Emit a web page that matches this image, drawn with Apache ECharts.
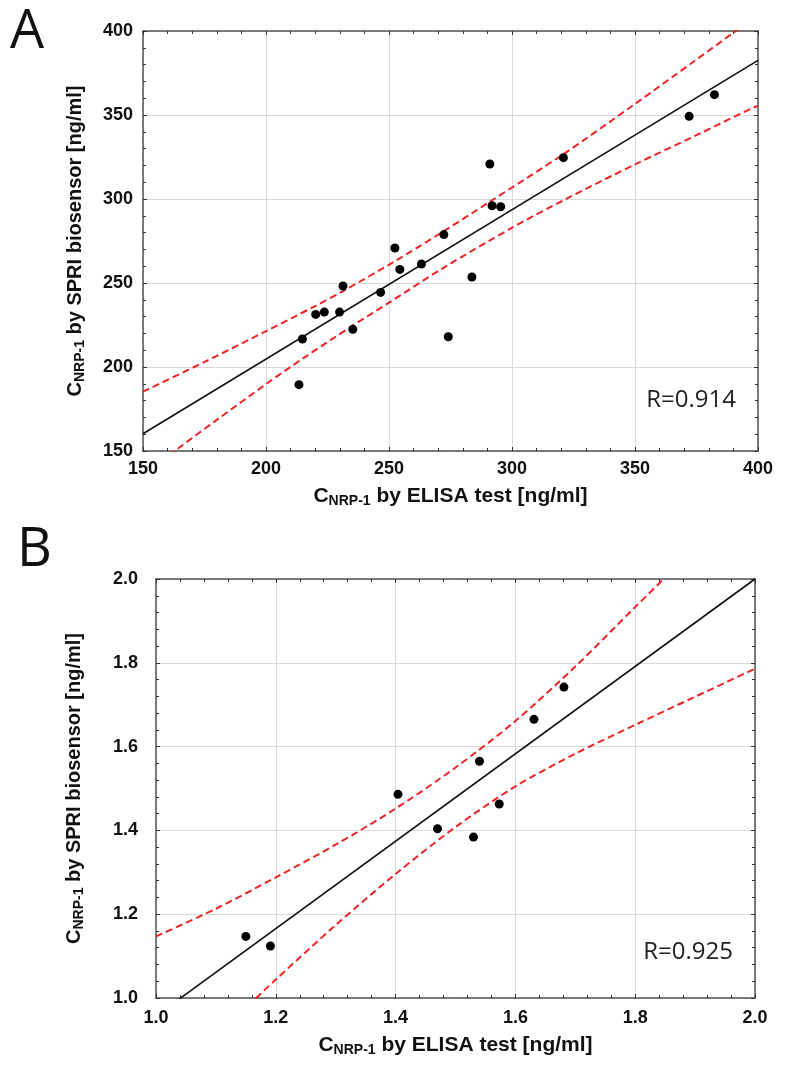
<!DOCTYPE html>
<html>
<head>
<meta charset="utf-8">
<script src="https://cdn.jsdelivr.net/npm/echarts@6/dist/echarts.min.js"></script>
<style>
html,body{margin:0;padding:0;background:#fff;}
#c{width:788px;height:1070px;}
</style>
</head>
<body>
<div id="c"></div>
<script>
// ---------- Panel A data (ng/ml) ----------
const aElisa = [382.3, 372.0, 320.9, 291.0, 291.9, 295.4, 272.3, 252.4, 254.4, 263.2, 283.7, 231.3, 246.6, 220.2, 223.7, 229.9, 235.3, 274.1, 214.8, 213.4];
const aSpri  = [362.1, 349.2, 324.6, 320.8, 296.0, 295.4, 278.8, 270.8, 258.1, 261.3, 253.6, 248.2, 244.4, 231.3, 232.7, 232.7, 222.4, 218.0, 216.7, 189.5];
const aFitX = [150, 400];
const aFitY = [160.3, 382.5];
const aUpX = [150, 175, 200, 220, 231, 252, 272, 291, 321, 350, 375, 390, 400];
const aUpY = [185.3, 203, 221.3, 236.3, 244.9, 262.6, 280.6, 298.4, 326.8, 356.6, 383, 399, 409.5];
const aLoX = [150, 163.8, 180, 200, 215, 235, 250, 272, 300, 321, 350, 375, 397.5, 400];
const aLoY = [135.3, 151, 168.5, 189.8, 205.1, 224.4, 238.3, 258.9, 282.9, 299.3, 320.6, 338, 354, 355.5];
const aTicks = [150, 200, 250, 300, 350, 400];
const aR = 'R=0.914';

// ---------- Panel B data (ng/ml) ----------
const bElisa = [1.150, 1.191, 1.404, 1.470, 1.530, 1.540, 1.573, 1.631, 1.681];
const bSpri  = [1.147, 1.124, 1.486, 1.404, 1.384, 1.565, 1.463, 1.665, 1.742];
const bFitX = [1.0, 2.0];
const bFitY = [0.957, 2.0];
const bUpX = [1.0, 1.1, 1.2, 1.3, 1.4, 1.5, 1.6, 1.7, 1.8, 1.9];
const bUpY = [1.147, 1.213, 1.288, 1.366, 1.452, 1.550, 1.661, 1.791, 1.933, 2.074];
const bLoX = [1.1, 1.2, 1.3, 1.4, 1.5, 1.6, 1.7, 1.8, 1.9, 2.0];
const bLoY = [0.909, 1.044, 1.174, 1.296, 1.408, 1.505, 1.583, 1.652, 1.719, 1.786];
const bTicks = [1.0, 1.2, 1.4, 1.6, 1.8, 2.0];
const bR = 'R=0.925';

const xName = '{c|C}{s|NRP-1}{c| by ELISA test [ng/ml]}';
const yName = '{c|C}{s|NRP-1}{c| by SPRI biosensor [ng/ml]}';

const zip = (xs, ys) => xs.map((x, i) => [x, ys[i]]);

const RED = '#ee2424';
const AXC = '#555555';
const LABEL_FONT = 'Liberation Sans, Arial, sans-serif';

function richName(size, subSize, pad) {
  return {
    c: {fontSize: size, fontWeight: 'bold', fontFamily: LABEL_FONT, color: '#111'},
    s: {fontSize: subSize, fontWeight: 'bold', fontFamily: LABEL_FONT, color: '#111', padding: [pad, 0, 0, 0]}
  };
}

function mainAxisCommon(min, max, interval, decimals) {
  return {
    type: 'value', min: min, max: max, interval: interval,
    axisLine: {show: true, onZero: false, lineStyle: {color: AXC, width: 1.5}},
    axisTick: {show: true, inside: true, length: 4, lineStyle: {color: '#333'}},
    minorTick: {show: true, splitNumber: 5, length: 3, lineStyle: {color: '#333'}},
    splitLine: {show: true, lineStyle: {color: '#dadada', width: 1}},
    axisLabel: {
      fontSize: 18, fontWeight: 'bold', fontFamily: LABEL_FONT, color: '#111',
      formatter: v => v.toFixed(decimals)
    }
  };
}
function sideAxis(min, max, interval, pos, gridIndex) {
  return {
    type: 'value', min: min, max: max, interval: interval, position: pos, gridIndex: gridIndex,
    axisLine: {show: true, onZero: false, lineStyle: {color: AXC, width: 1.5}},
    axisTick: {show: true, inside: true, length: 4, lineStyle: {color: '#333'}},
    minorTick: {show: true, splitNumber: 5, length: 3, lineStyle: {color: '#333'}},
    splitLine: {show: false},
    axisLabel: {show: false}
  };
}

const chart = echarts.init(document.getElementById('c'), null, {renderer: 'canvas'});

const xA = Object.assign(mainAxisCommon(aTicks[0], aTicks[aTicks.length-1], aTicks[1]-aTicks[0], 0), {
  gridIndex: 0, position: 'bottom', name: xName, nameLocation: 'middle', nameGap: 34,
  nameTextStyle: {rich: richName(21, 14, 9)}
});
xA.axisLabel.margin = 9;
const yA = Object.assign(mainAxisCommon(aTicks[0], aTicks[aTicks.length-1], aTicks[1]-aTicks[0], 0), {
  gridIndex: 0, position: 'left', name: yName, nameLocation: 'middle', nameGap: 56, nameRotate: 90,
  nameTextStyle: {rich: richName(20, 14, 9)}
});
yA.axisLabel.margin = 10;

const xB = Object.assign(mainAxisCommon(bTicks[0], bTicks[bTicks.length-1], 0.2, 1), {
  gridIndex: 1, position: 'bottom', name: xName, nameLocation: 'middle', nameGap: 36,
  nameTextStyle: {rich: richName(21, 14, 9)}
});
xB.axisLabel.margin = 11;
const yB = Object.assign(mainAxisCommon(bTicks[0], bTicks[bTicks.length-1], 0.2, 1), {
  gridIndex: 1, position: 'left', name: yName, nameLocation: 'middle', nameGap: 70, nameRotate: 90,
  nameTextStyle: {rich: richName(20, 14, 9)}
});
yB.axisLabel.margin = 18;

const lineBase = {type: 'line', showSymbol: false, symbol: 'none', clip: true, z: 2, silent: true};

const option = {
  animation: false,
  backgroundColor: '#ffffff',
  grid: [
    {left: 143, top: 31, width: 615, height: 420, containLabel: false},
    {left: 156, top: 579, width: 599, height: 419, containLabel: false}
  ],
  xAxis: [xA, sideAxis(150, 400, 50, 'top', 0), xB, sideAxis(1.0, 2.0, 0.2, 'top', 1)],
  yAxis: [yA, sideAxis(150, 400, 50, 'right', 0), yB, sideAxis(1.0, 2.0, 0.2, 'right', 1)],
  graphic: [
    {type: 'text', left: 10, top: 6, style: {text: 'A', font: '54px "Open Sans", sans-serif', fill: '#111'}},
    {type: 'text', left: 17, top: 524, style: {text: 'B', font: '54px "Open Sans", sans-serif', fill: '#111'}},
    {type: 'text', right: 52, top: 388, style: {text: aR, font: '24px "Open Sans", sans-serif', fill: '#222'}},
    {type: 'text', right: 55, top: 940, style: {text: bR, font: '24px "Open Sans", sans-serif', fill: '#222'}}
  ],
  series: [
    Object.assign({}, lineBase, {xAxisIndex: 0, yAxisIndex: 0, data: zip(aFitX, aFitY), lineStyle: {color: '#111', width: 1.6}}),
    Object.assign({}, lineBase, {xAxisIndex: 0, yAxisIndex: 0, smooth: 0.3, data: zip(aUpX, aUpY), lineStyle: {color: RED, width: 2, type: [7, 4]}}),
    Object.assign({}, lineBase, {xAxisIndex: 0, yAxisIndex: 0, smooth: 0.3, data: zip(aLoX, aLoY), lineStyle: {color: RED, width: 2, type: [7, 4]}}),
    {type: 'scatter', xAxisIndex: 0, yAxisIndex: 0, data: zip(aElisa, aSpri), symbol: 'circle', symbolSize: 9, itemStyle: {color: '#000', opacity: 1}, z: 5},
    Object.assign({}, lineBase, {xAxisIndex: 2, yAxisIndex: 2, data: zip(bFitX, bFitY), lineStyle: {color: '#111', width: 1.6}}),
    Object.assign({}, lineBase, {xAxisIndex: 2, yAxisIndex: 2, smooth: 0.3, data: zip(bUpX, bUpY), lineStyle: {color: RED, width: 2, type: [7, 4]}}),
    Object.assign({}, lineBase, {xAxisIndex: 2, yAxisIndex: 2, smooth: 0.3, data: zip(bLoX, bLoY), lineStyle: {color: RED, width: 2, type: [7, 4]}}),
    {type: 'scatter', xAxisIndex: 2, yAxisIndex: 2, data: zip(bElisa, bSpri), symbol: 'circle', symbolSize: 9, itemStyle: {color: '#000', opacity: 1}, z: 5}
  ]
};
chart.setOption(option);
</script>
</body>
</html>
